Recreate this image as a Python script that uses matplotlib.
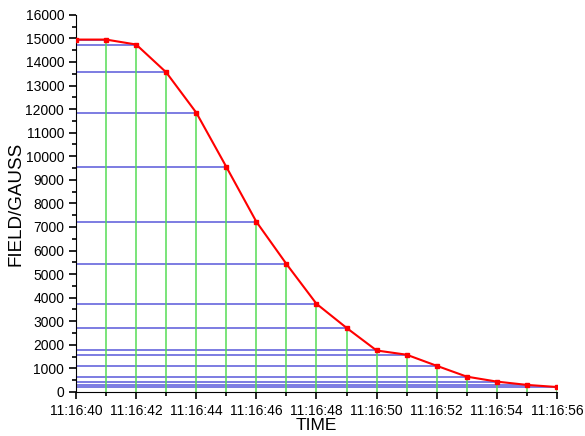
import matplotlib.pyplot as plt
import matplotlib.dates as mdates
import pandas as pd

plt.rcParams['font.family'] = ['Liberation Sans', 'DejaVu Sans']

times = ["11:16:40", "11:16:41", "11:16:42", "11:16:43", "11:16:44", "11:16:45",
         "11:16:46", "11:16:47", "11:16:48", "11:16:49", "11:16:50", "11:16:51",
         "11:16:52", "11:16:53", "11:16:54", "11:16:55", "11:16:56"]
field = [14950, 14950, 14740, 13560, 11850, 9550, 7220, 5430, 3740, 2720,
         1760, 1580, 1110, 650, 440, 300, 210]

t = pd.to_datetime(["2000-01-01 " + s for s in times])

fig = plt.figure(figsize=(5.85, 4.36), dpi=100)
ax = fig.add_axes([0.130, 0.101, 0.822, 0.865])

# drop lines to the axes
ax.hlines(field, t[0], t, colors="#3030d0", lw=1.1, alpha=0.8, zorder=1)
ax.vlines(t, 0, field, colors="#55dd55", lw=1.1, zorder=1)

ax.plot(t, field, color="red", lw=1.5, marker="s", ms=3.5, zorder=3)

ax.set_xlim(t[0], t[-1])
ax.set_ylim(0, 16000)
ax.xaxis.set_major_locator(mdates.SecondLocator(interval=2))
ax.xaxis.set_minor_locator(mdates.SecondLocator(interval=1))
ax.xaxis.set_major_formatter(mdates.DateFormatter("%H:%M:%S"))
ax.set_yticks(range(0, 16001, 1000))
ax.set_yticks(range(500, 16000, 1000), minor=True)

ax.spines["top"].set_visible(False)
ax.spines["right"].set_visible(False)
ax.tick_params(which="major", length=5, width=1.2, labelsize=10)
ax.tick_params(which="minor", length=3, width=1.2)

ax.set_xlabel("TIME", fontsize=12.5, labelpad=0)
ax.set_ylabel("FIELD/GAUSS", fontsize=13.5, labelpad=1)

fig.savefig("out.png")
